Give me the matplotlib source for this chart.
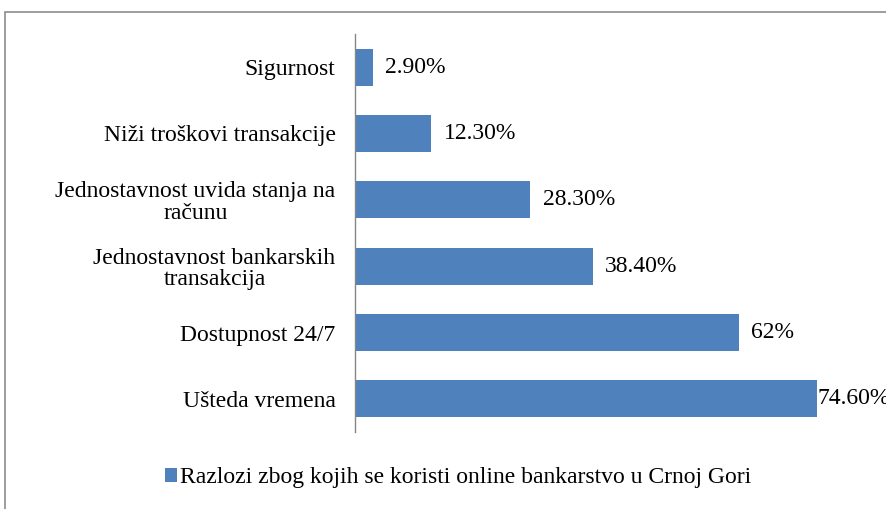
import matplotlib.pyplot as plt
from matplotlib.patches import Rectangle

# data (top to bottom)
categories = [
    "Sigurnost",
    "Niži troškovi transakcije",
    "Jednostavnost uvida stanja na\nračunu",
    "Jednostavnost bankarskih\ntransakcija",
    "Dostupnost 24/7",
    "Ušteda vremena",
]
values = [2.9, 12.3, 28.3, 38.4, 62.0, 74.6]
value_labels = ["2.90%", "12.30%", "28.30%", "38.40%", "62%", "74.60%"]
series_name = "Razlozi zbog kojih se koristi online bankarstvo u Crnoj Gori"

bar_color = "#4F81BD"
plt.rcParams["font.family"] = ["Liberation Serif", "DejaVu Serif"]
fs = 17

fig = plt.figure(figsize=(8.87, 5.09), dpi=100)
ax = fig.add_axes([355 / 887, 77 / 509, 526 / 887, 398 / 509])

ypos = list(range(len(categories)))
bars = ax.barh(ypos, values, height=0.56, color=bar_color, label=series_name)
ax.set_ylim(len(categories) - 0.5, -0.5)
ax.set_xlim(0, 85)

ax.set_yticks(ypos)
ax.set_yticklabels(categories, fontsize=fs, multialignment="center",
                   linespacing=1.05)
ax.tick_params(axis="y", length=0, pad=14)
ax.set_xticks([])
for side in ["top", "right", "bottom"]:
    ax.spines[side].set_visible(False)
ax.spines["left"].set_color("#868686")
ax.spines["left"].set_linewidth(1.0)

# value labels; the last one is squeezed against the bar end
for i, (v, lab) in enumerate(zip(values, value_labels)):
    off = 0.5 if v > 70 else 9
    ax.annotate(lab, (v, i), xytext=(off, 0), textcoords="offset points",
                va="center", ha="left", fontsize=fs, annotation_clip=False)

leg = fig.legend(handles=[bars], labels=[series_name], loc="center left",
                 bbox_to_anchor=(165 / 887, 1 - 478 / 509), frameon=False,
                 fontsize=fs, handlelength=0.5, handleheight=0.5,
                 handletextpad=0.15, borderpad=0, borderaxespad=0)

# outer chart frame (runs past the right and bottom edge in the reference)
fig.patches.append(Rectangle((5 / 887, -0.2), 1.2, 1.2 - 12 / 509,
                             transform=fig.transFigure, fill=False,
                             edgecolor="#8C8C8C", linewidth=1.2))

fig.savefig("out.png", dpi=100)
